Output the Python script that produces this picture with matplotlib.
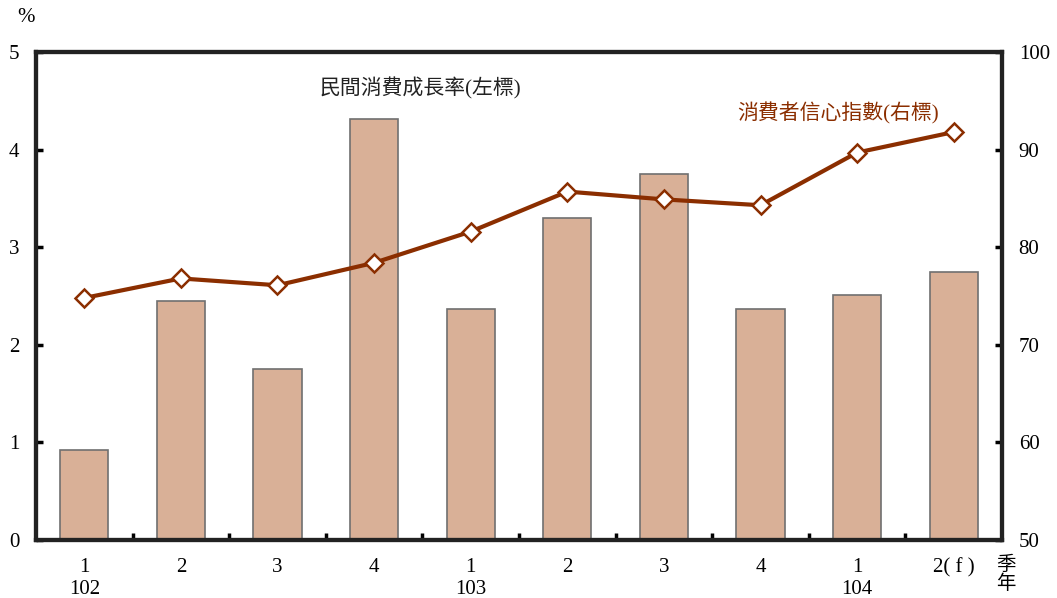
import matplotlib.pyplot as plt
import numpy as np

plt.rcParams['font.family'] = ['Liberation Serif', 'Noto Sans CJK TC']

quarters = ['1', '2', '3', '4', '1', '2', '3', '4', '1', '2( f )']
years = ['102', '103', '104']
year_pos = [0, 4, 8]
consumption_growth = [0.92, 2.45, 1.75, 4.31, 2.37, 3.30, 3.75, 2.37, 2.51, 2.75]
confidence_index = [74.8, 76.8, 76.1, 78.4, 81.6, 85.7, 84.9, 84.3, 89.7, 91.8]

BAR_COLOR = '#d9b097'
LINE_COLOR = '#8b2e00'

fig = plt.figure(figsize=(10.57, 5.98), dpi=100)
ax = fig.add_axes([0.034, 0.097, 0.914, 0.816])
x = np.arange(len(quarters))
ax.bar(x, consumption_growth, width=0.5, color=BAR_COLOR, edgecolor='#707070', linewidth=1.2, zorder=2)
ax.set_xlim(-0.5, 9.5)
ax.set_ylim(0, 5)
ax.set_yticks(range(6))
ax.set_xticks(x)
ax.set_xticklabels(quarters)
ax.set_xticks(np.arange(0.5, 9, 1), minor=True)
ax.tick_params(axis='x', which='major', length=0, labelsize=15, pad=13)
ax.tick_params(axis='x', which='minor', direction='in', length=5, width=2.5)
ax.tick_params(axis='y', direction='in', length=5, width=2.5, labelsize=15, pad=12)
for s in ax.spines.values():
    s.set_linewidth(3)
    s.set_color('#222222')

ax2 = ax.twinx()
ax2.plot(x, confidence_index, color=LINE_COLOR, linewidth=3, marker='D', markersize=9,
         markerfacecolor='white', markeredgecolor=LINE_COLOR, markeredgewidth=1.8, zorder=3)
ax2.set_ylim(50, 100)
ax2.set_yticks(range(50, 101, 10))
ax2.tick_params(axis='y', direction='in', length=5, width=2.5, labelsize=15, pad=12)
for s in ax2.spines.values():
    s.set_linewidth(3)
    s.set_color('#222222')

for p, yr in zip(year_pos, years):
    ax.annotate(yr, xy=(p, 0), xycoords=('data', 'figure fraction'),
                xytext=(0, 1 - 590 / 598), textcoords=('offset points', 'figure fraction'),
                ha='center', va='center', fontsize=15)

fig.text(17 / 1057, 1 - 18 / 598, '%', fontsize=15, ha='left', va='center')
fig.text(1006 / 1057, 1 - 565 / 598, '季', fontsize=14, ha='center', va='center')
fig.text(1006 / 1057, 1 - 584 / 598, '年', fontsize=14, ha='center', va='center')
ax.text(420 / 1057, 1 - 88 / 598, '民間消費成長率(左標)', transform=fig.transFigure,
        fontsize=15, ha='center', va='center', color='#222222')
ax.text(838 / 1057, 1 - 113 / 598, '消費者信心指數(右標)', transform=fig.transFigure,
        fontsize=15, ha='center', va='center', color=LINE_COLOR)

fig.savefig('out.png', dpi=100)
